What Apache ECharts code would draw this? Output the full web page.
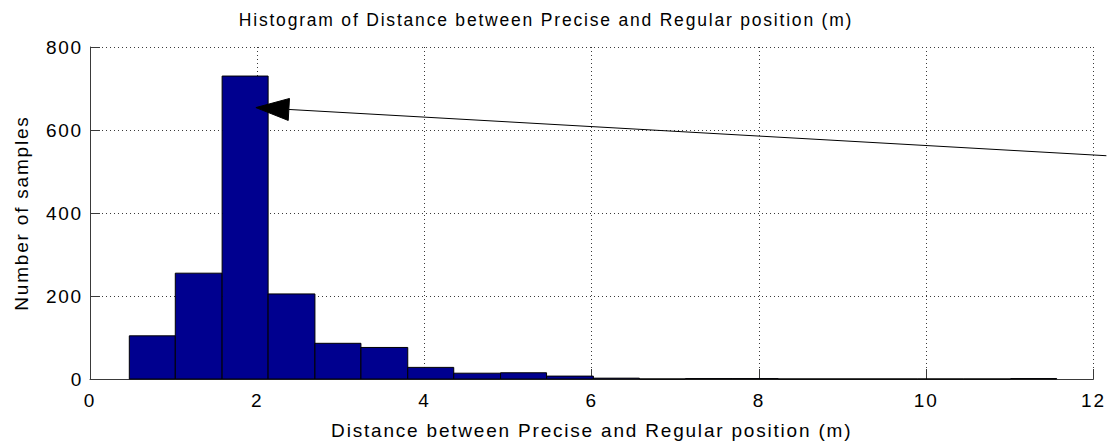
<!DOCTYPE html>
<html>
<head>
<meta charset="utf-8">
<script src="https://cdn.jsdelivr.net/npm/echarts@6/dist/echarts.min.js"></script>
<style>
  html, body { margin: 0; padding: 0; background: #fff; }
  /* the reference text is spaced out wider than plain Helvetica */
  #chart { width: 1107px; height: 446px; letter-spacing: 1.8px; }
</style>
</head>
<body>
<div id="chart"></div>
<script>
// histogram bins (m) and counts
var binEdges = [0.47, 1.02, 1.58, 2.13, 2.69, 3.24, 3.80, 4.35, 4.91, 5.46, 6.02,
                6.57, 7.12, 7.68, 8.23, 8.79, 9.34, 9.90, 10.45, 11.01, 11.56];
var counts = [104, 255, 730, 205, 86, 76, 28, 14, 15, 7, 2, 0, 1, 1, 0, 0, 0, 0, 0, 1];
var xTicks = [0, 2, 4, 6, 8, 10, 12];
var yTicks = [0, 200, 400, 600, 800];
// annotation arrow: tail runs off the right edge, tip lands inside the tall bar
var arrowTail = [12.155, 538];
var arrowTip = [1.984, 654];

var titleText = 'Histogram of Distance between Precise and Regular position (m)';
var xName = 'Distance between Precise and Regular position (m)';
var yName = 'Number of samples';

var font = 'Liberation Sans';

// [start, end, count] for every bin
var bins = counts.map(function (c, i) { return [binEdges[i], binEdges[i + 1], c]; });

function renderBar(params, api) {
    var topLeft = api.coord([api.value(0), api.value(2)]);
    var bottomRight = api.coord([api.value(1), 0]);
    return {
        type: 'rect',
        shape: {
            x: topLeft[0],
            y: topLeft[1],
            width: bottomRight[0] - topLeft[0],
            height: bottomRight[1] - topLeft[1]
        },
        style: { fill: '#00008f', stroke: '#000', lineWidth: 1 }
    };
}

var axisCommon = {
    axisLine: { lineStyle: { color: '#3a3a3a', width: 1 } },
    axisTick: { inside: true, length: 10, lineStyle: { color: '#3a3a3a' } },
    splitLine: { show: true, lineStyle: { color: '#3a3a3a', type: [1, 3], width: 1 } },
    nameTextStyle: { color: '#000', fontFamily: font, fontSize: 19 }
};

var chart = echarts.init(document.getElementById('chart'), null, { renderer: 'svg' });

chart.setOption({
    animation: false,
    backgroundColor: '#fff',
    grid: { left: 90, right: 13, top: 47, bottom: 67 },
    xAxis: Object.assign({
        type: 'value',
        min: xTicks[0],
        max: xTicks[xTicks.length - 1],
        interval: xTicks[1] - xTicks[0],
        name: xName,
        nameLocation: 'middle',
        nameGap: 42,
        axisLabel: { color: '#000', fontFamily: font, fontSize: 19, margin: 12 }
    }, axisCommon),
    yAxis: Object.assign({
        type: 'value',
        min: yTicks[0],
        max: yTicks[yTicks.length - 1],
        interval: yTicks[1] - yTicks[0],
        name: yName,
        nameLocation: 'middle',
        nameGap: 59,
        axisLabel: { color: '#000', fontFamily: font, fontSize: 19, margin: 7 }
    }, axisCommon),
    series: [{
        type: 'custom',
        renderItem: renderBar,
        data: bins,
        encode: { x: [0, 1], y: 2 },
        silent: true
    }]
});

// arrow drawn from the data points through the axes' own pixel mapping
var pTail = chart.convertToPixel({ gridIndex: 0 }, arrowTail);
var pTip = chart.convertToPixel({ gridIndex: 0 }, arrowTip);
var dx = pTip[0] - pTail[0], dy = pTip[1] - pTail[1];
var len = Math.sqrt(dx * dx + dy * dy);
var ux = dx / len, uy = dy / len;
var headLen = 33, headHalf = 11;
var base = [pTip[0] - ux * headLen, pTip[1] - uy * headLen];

chart.setOption({
    graphic: [{
        type: 'text',
        x: 546,
        y: 20,
        style: {
            text: titleText,
            fill: '#000',
            font: '17.5px "' + font + '"',
            textAlign: 'center',
            textVerticalAlign: 'middle'
        }
    }, {
        type: 'line',
        silent: true,
        z: 100,
        shape: { x1: pTail[0], y1: pTail[1], x2: base[0], y2: base[1] },
        style: { stroke: '#000', lineWidth: 1 }
    }, {
        type: 'polygon',
        silent: true,
        z: 100,
        shape: {
            points: [
                pTip,
                [base[0] - uy * headHalf, base[1] + ux * headHalf],
                [base[0] + uy * headHalf, base[1] - ux * headHalf]
            ]
        },
        style: { fill: '#000', stroke: '#000', lineWidth: 1 }
    }]
});
</script>
</body>
</html>
